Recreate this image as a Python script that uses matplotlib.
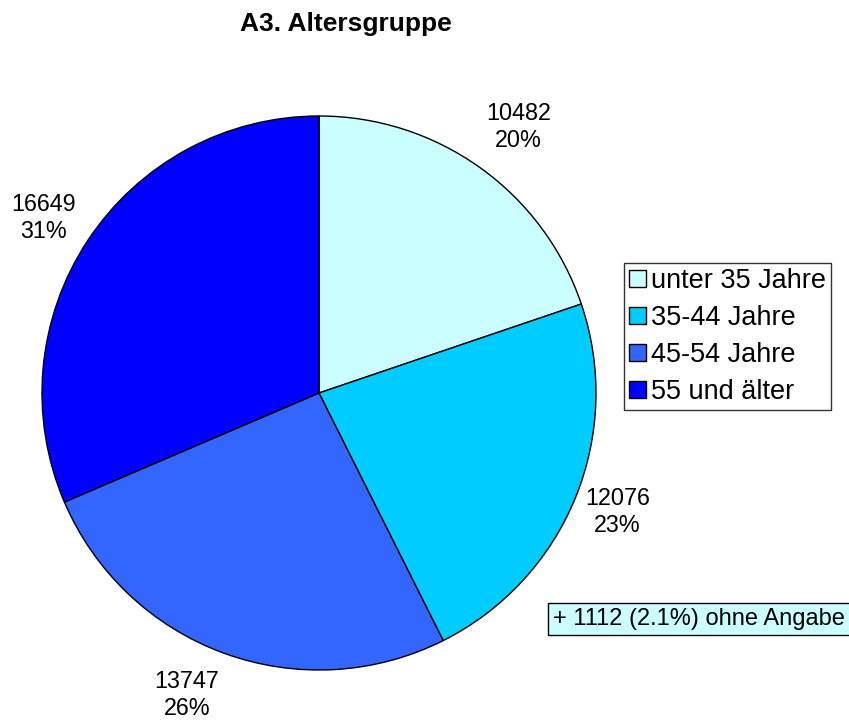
import numpy as np
import matplotlib
matplotlib.use("Agg")
import matplotlib.pyplot as plt

plt.rcParams['font.family'] = ['Liberation Sans', 'DejaVu Sans']

title = "A3. Altersgruppe"
categories = ["unter 35 Jahre", "35-44 Jahre", "45-54 Jahre", "55 und älter"]
values = [10482, 12076, 13747, 16649]
colors = ["#CCFFFF", "#00CCFF", "#3366FF", "#0000FF"]
note = "+ 1112 (2.1%) ohne Angabe"

W, H = 849, 720
fig = plt.figure(figsize=(W / 100, H / 100), dpi=100)

cx, cy, r = 319, 393, 277
ax = fig.add_axes([(cx - r) / W, (H - cy - r) / H, 2 * r / W, 2 * r / H])
ax.set_aspect('equal')
ax.axis('off')

total = sum(values)
wedges, _ = ax.pie(values, colors=colors, startangle=90, counterclock=False,
                   radius=1, wedgeprops=dict(edgecolor='black', linewidth=1.0),
                   frame=False)
ax.set_xlim(-1, 1)
ax.set_ylim(-1, 1)

# small pixel nudges of the data labels (layout only)
nudges = [(9, 0), (-4, 5), (-20, 5), (-3, -5)]
for w, v, (nx, ny) in zip(wedges, values, nudges):
    ang = np.deg2rad((w.theta1 + w.theta2) / 2)
    d = 1.18
    ax.annotate(f"{v}\n{round(100 * v / total):.0f}%",
                xy=(d * np.cos(ang), d * np.sin(ang)),
                xytext=(nx, ny), textcoords='offset pixels',
                ha='center', va='center', fontsize=16.8, linespacing=1.22,
                annotation_clip=False)

fig.text(346 / W, 1 - 24 / H, title, ha='center', va='center',
         fontsize=19, fontweight='bold')

leg = fig.legend(wedges, categories, loc='upper left',
                 bbox_to_anchor=(624 / W, 1 - 263 / H), fontsize=19.5,
                 frameon=True, fancybox=False, shadow=False,
                 handlelength=0.6, handleheight=0.6, handletextpad=0.18,
                 labelspacing=0.4, borderpad=0.2, borderaxespad=0)
leg.get_frame().set_edgecolor('black')
leg.get_frame().set_linewidth(1.0)

fig.text(553 / W, 1 - 619 / H, note, ha='left', va='center', fontsize=17,
         bbox=dict(boxstyle='square,pad=0.22', facecolor='#CCFFFF',
                   edgecolor='black', linewidth=1.0))

fig.savefig("out.png", dpi=100)
